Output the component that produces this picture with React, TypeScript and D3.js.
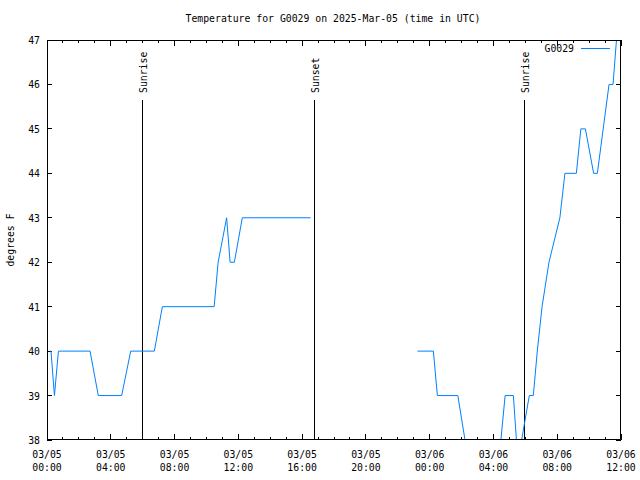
import React from "react";
import * as d3 from "d3";

const title = "Temperature for G0029 on 2025-Mar-05 (time in UTC)";
const seriesName = "G0029";
const yLabel = "degrees F";

// segment 1 (03/05)
const seg1Times = ["2025-03-05T00:11", "2025-03-05T00:15", "2025-03-05T00:28", "2025-03-05T00:43", "2025-03-05T02:42", "2025-03-05T03:13", "2025-03-05T04:41", "2025-03-05T05:15", "2025-03-05T06:44", "2025-03-05T07:14", "2025-03-05T10:29", "2025-03-05T10:44", "2025-03-05T11:16", "2025-03-05T11:29", "2025-03-05T11:45", "2025-03-05T12:15", "2025-03-05T16:32"];
const seg1Temps = [40, 40, 39, 40, 40, 39, 39, 40, 40, 41, 41, 42, 43, 42, 42, 43, 43];

// segment 2 (03/05 night – 03/06)
const seg2Times = ["2025-03-05T23:14", "2025-03-06T00:14", "2025-03-06T00:29", "2025-03-06T01:46", "2025-03-06T02:40", "2025-03-06T04:12", "2025-03-06T04:44", "2025-03-06T05:15", "2025-03-06T05:38", "2025-03-06T05:46", "2025-03-06T06:15", "2025-03-06T06:30", "2025-03-06T06:45", "2025-03-06T07:03", "2025-03-06T07:29", "2025-03-06T08:10", "2025-03-06T08:29", "2025-03-06T09:12", "2025-03-06T09:29", "2025-03-06T09:46", "2025-03-06T10:17", "2025-03-06T10:31", "2025-03-06T11:15", "2025-03-06T11:30", "2025-03-06T11:43", "2025-03-06T11:57"];
const seg2Temps = [40, 40, 39, 39, 37, 37, 39, 39, 37, 38, 39, 39, 40, 41, 42, 43, 44, 44, 45, 45, 44, 44, 46, 46, 47, 48];

const markerTimes = ["2025-03-05T05:56", "2025-03-05T16:45", "2025-03-06T05:56"];
const markerLabels = ["Sunrise", "Sunset", "Sunrise"];

const xStart = "2025-03-05T00:00";
const xEnd = "2025-03-06T12:00";
const yMin = 38;
const yMax = 47;

const parse = (s: string) => new Date(s + ":00Z");

export default function App() {
  const W = 640, H = 480;
  const L = 47, R = 621, T = 40, B = 440;
  const x = d3.scaleUtc().domain([parse(xStart), parse(xEnd)]).range([L, R]);
  const y = d3.scaleLinear().domain([yMin, yMax]).range([B, T]);
  const font = "'DejaVu Sans Mono', monospace";
  const fs = 9.8;
  const color = "#0080ff";

  const line = d3
    .line<[Date, number]>()
    .x((d) => x(d[0]))
    .y((d) => y(d[1]));
  const s1: [Date, number][] = seg1Times.map((t, i) => [parse(t), seg1Temps[i]]);
  const s2: [Date, number][] = seg2Times.map((t, i) => [parse(t), seg2Temps[i]]);

  const majorTicks = x.ticks(d3.utcHour.every(4)!);
  const minorTicks = x.ticks(d3.utcHour.every(1)!);
  const yTicks = d3.range(yMin, yMax + 1);
  const fmtDate = d3.utcFormat("%m/%d");
  const fmtTime = d3.utcFormat("%H:%M");

  return (
    <svg width={W} height={H} style={{ position: "fixed", left: 0, top: 0, background: "#fff" }} fontFamily={font} fontSize={fs}>
      <rect x={0} y={0} width={W} height={H} fill="#fff" />
      <defs>
        <clipPath id="plot">
          <rect x={L} y={T} width={R - L} height={B - T} />
        </clipPath>
      </defs>
      <text x={333} y={22} textAnchor="middle">{title}</text>
      {/* ticks */}
      <g stroke="#000" strokeWidth={1} shapeRendering="crispEdges">
        {minorTicks.map((t, i) => (
          <g key={"m" + i}>
            <line x1={x(t)} x2={x(t)} y1={B} y2={B - 3} />
            <line x1={x(t)} x2={x(t)} y1={T} y2={T + 3} />
          </g>
        ))}
        {majorTicks.map((t, i) => (
          <g key={"M" + i}>
            <line x1={x(t)} x2={x(t)} y1={B} y2={B - 6} />
            <line x1={x(t)} x2={x(t)} y1={T} y2={T + 6} />
          </g>
        ))}
        {yTicks.map((v) => (
          <g key={"y" + v}>
            <line x1={L} x2={L + 5} y1={y(v)} y2={y(v)} />
            <line x1={R} x2={R - 5} y1={y(v)} y2={y(v)} />
          </g>
        ))}
      </g>
      {yTicks.map((v) => (
        <text key={"yl" + v} x={40} y={y(v) + 4} textAnchor="end">{v}</text>
      ))}
      {majorTicks.map((t, i) => (
        <g key={"xl" + i}>
          <text x={x(t)} y={458} textAnchor="middle">{fmtDate(t)}</text>
          <text x={x(t)} y={471} textAnchor="middle">{fmtTime(t)}</text>
        </g>
      ))}
      <text transform={`translate(14,${(T + B) / 2}) rotate(-90)`} textAnchor="middle">{yLabel}</text>
      {/* markers */}
      {markerTimes.map((t, i) => {
        const mx = Math.round(x(parse(t))) + 0.5;
        return (
          <g key={"mk" + i}>
            <line x1={mx} x2={mx} y1={100} y2={B} stroke="#000" shapeRendering="crispEdges" />
            <text transform={`translate(${mx + 4},93) rotate(-90)`} textAnchor="start">{markerLabels[i]}</text>
          </g>
        );
      })}
      <g clipPath="url(#plot)" fill="none" stroke={color} strokeWidth={1}>
        <path d={line(s1) || ""} />
        <path d={line(s2) || ""} />
      </g>
      {/* legend */}
      <text x={574} y={52} textAnchor="end">{seriesName}</text>
      <line x1={581} x2={610} y1={48.5} y2={48.5} stroke={color} shapeRendering="crispEdges" />
      <rect x={L + 0.5} y={T + 0.5} width={R - L - 1} height={B - T - 1} fill="none" stroke="#000" shapeRendering="crispEdges" />
    </svg>
  );
}
